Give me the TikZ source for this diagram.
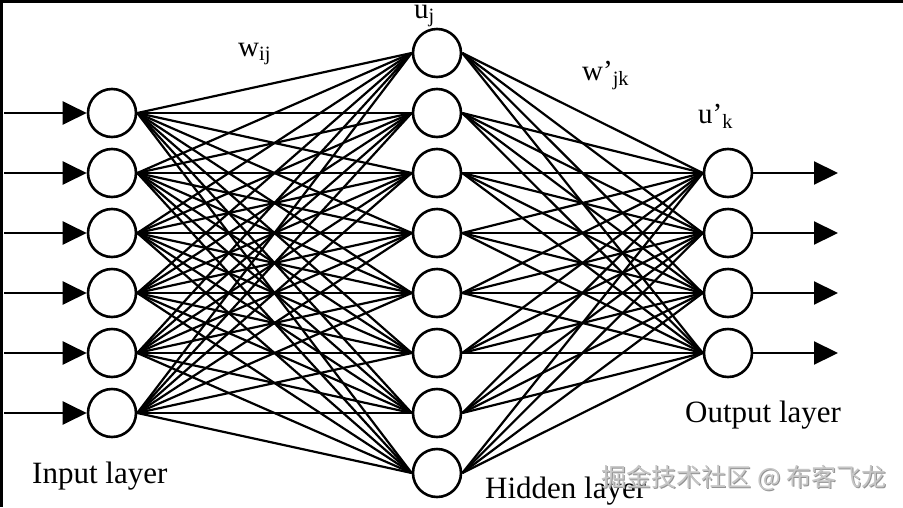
\documentclass[tikz,border=0pt]{standalone}
\usepackage{fontspec}
\setmainfont{Liberation Serif}
\newfontfamily\cjk{Noto Sans CJK SC}
\usetikzlibrary{arrows.meta}
\begin{document}
\begin{tikzpicture}[x=1pt,y=-1pt,
  neuron/.style={circle,draw,line width=2.6pt,minimum size=48pt,inner sep=0pt},
  link/.style={line width=2.2pt},
  inarrow/.style={line width=2.2pt,-{Triangle[length=24pt,width=23pt]}},
  lbl/.style={font=\fontsize{31}{36}\selectfont,inner sep=0pt,anchor=base west},
  wlbl/.style={font=\fontsize{29}{34}\selectfont,inner sep=0pt,anchor=base west},
  wmark/.style={font=\cjk\fontsize{25}{29}\selectfont,inner sep=0pt}]
\useasboundingbox (0,0) rectangle (903,507);
\fill[white] (0,0) rectangle (903,507);
% border on top and left
\fill[black] (0,0) rectangle (903,2.5);
\fill[black] (0,0) rectangle (2.5,507);
% input nodes
\foreach \i in {1,...,6} {
  \node[neuron] (i\i) at (112,{113+60*(\i-1)}) {};
  \coordinate (s\i) at (4,{113+60*(\i-1)});
}
% hidden nodes
\foreach \j in {1,...,8} {
  \node[neuron] (h\j) at (437,{53+60*(\j-1)}) {};
}
% output nodes
\foreach \k in {1,...,4} {
  \node[neuron] (o\k) at (728,{173+60*(\k-1)}) {};
  \coordinate (e\k) at (838,{173+60*(\k-1)});
}
% connections
\foreach \i in {1,...,6} {
  \foreach \j in {1,...,8} {
    \draw[link] (i\i.east) -- (h\j.west);
  }
  \draw[inarrow] (s\i) -- (i\i.west);
}
\foreach \j in {1,...,8} {
  \foreach \k in {1,...,4} {
    \draw[link] (h\j.east) -- (o\k.west);
  }
}
\foreach \k in {1,...,4} {
  \draw[inarrow] (o\k.east) -- (e\k);
}
% labels
\node[wlbl] (uj) at (414,18) {u\textsubscript{j}};
\node[wlbl] (wij) at (238,56) {w\textsubscript{ij}};
\node[wlbl] (wjk) at (582,80) {w’\textsubscript{jk}};
\node[wlbl] (uk) at (698,123) {u’\textsubscript{k}};
\node[lbl] (inl) at (32,483) {Input layer};
\node[lbl] (hil) at (485,498) {Hidden layer};
\node[lbl] (oul) at (685,422) {Output layer};
% watermark
\node[wmark,text=gray!85] (wm0) at (744.9,478.9) {掘金技术社区 @ 布客飞龙};
\node[wmark,text=gray!45] (wm) at (744,478) {掘金技术社区 @ 布客飞龙};
\end{tikzpicture}
\end{document}
